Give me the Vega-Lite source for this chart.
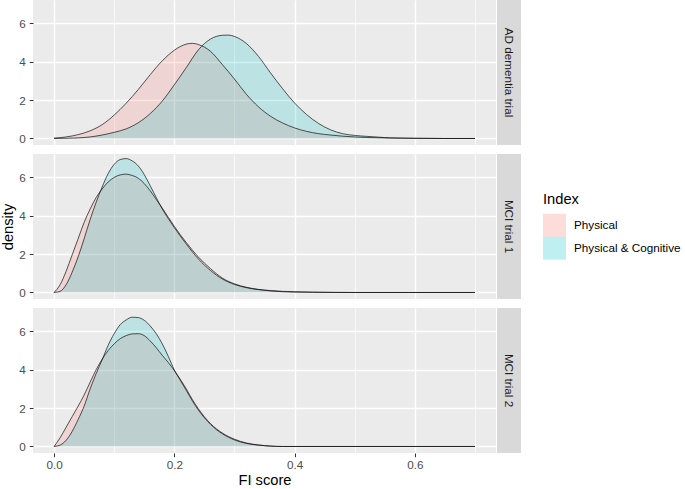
{
  "$schema": "https://vega.github.io/schema/vega-lite/v6.json",
  "padding": {"left": 0, "top": 0, "right": 0, "bottom": 0},
  "background": "white",
  "config": {
    "font": "Liberation Sans",
    "view": {"fill": "#EBEBEB", "stroke": null},
    "axis": {
      "domain": false,
      "gridColor": "white",
      "tickColor": "#333333",
      "tickSize": 3.7,
      "tickWidth": 1,
      "labelColor": "#4D4D4D",
      "labelFontSize": 11.7,
      "titleFontSize": 14.7,
      "titleFontWeight": "normal",
      "titleColor": "black"
    },
    "legend": {
      "titleFontSize": 14.7,
      "titleFontWeight": "normal",
      "titleColor": "black",
      "labelFontSize": 11.7,
      "labelColor": "black"
    }
  },
  "datasets": {
    "strips": [
      {"trial": "AD", "label": "AD dementia trial"},
      {"trial": "MCI1", "label": "MCI trial 1"},
      {"trial": "MCI2", "label": "MCI trial 2"}
    ],
    "curves": [
      {"trial": "AD", "Index": "Physical", "fi": 0.0, "density": 0.02},
      {"trial": "AD", "Index": "Physical", "fi": 0.02, "density": 0.08},
      {"trial": "AD", "Index": "Physical", "fi": 0.04, "density": 0.2},
      {"trial": "AD", "Index": "Physical", "fi": 0.06, "density": 0.4},
      {"trial": "AD", "Index": "Physical", "fi": 0.08, "density": 0.72},
      {"trial": "AD", "Index": "Physical", "fi": 0.1, "density": 1.22},
      {"trial": "AD", "Index": "Physical", "fi": 0.12, "density": 1.84},
      {"trial": "AD", "Index": "Physical", "fi": 0.14, "density": 2.55},
      {"trial": "AD", "Index": "Physical", "fi": 0.16, "density": 3.33},
      {"trial": "AD", "Index": "Physical", "fi": 0.18, "density": 4.05},
      {"trial": "AD", "Index": "Physical", "fi": 0.2, "density": 4.6},
      {"trial": "AD", "Index": "Physical", "fi": 0.22, "density": 4.92},
      {"trial": "AD", "Index": "Physical", "fi": 0.23, "density": 4.96},
      {"trial": "AD", "Index": "Physical", "fi": 0.24, "density": 4.9},
      {"trial": "AD", "Index": "Physical", "fi": 0.26, "density": 4.55},
      {"trial": "AD", "Index": "Physical", "fi": 0.28, "density": 3.85},
      {"trial": "AD", "Index": "Physical", "fi": 0.3, "density": 3.1},
      {"trial": "AD", "Index": "Physical", "fi": 0.32, "density": 2.3},
      {"trial": "AD", "Index": "Physical", "fi": 0.34, "density": 1.65},
      {"trial": "AD", "Index": "Physical", "fi": 0.36, "density": 1.16},
      {"trial": "AD", "Index": "Physical", "fi": 0.38, "density": 0.81},
      {"trial": "AD", "Index": "Physical", "fi": 0.4, "density": 0.55},
      {"trial": "AD", "Index": "Physical", "fi": 0.42, "density": 0.37},
      {"trial": "AD", "Index": "Physical", "fi": 0.44, "density": 0.25},
      {"trial": "AD", "Index": "Physical", "fi": 0.46, "density": 0.18},
      {"trial": "AD", "Index": "Physical", "fi": 0.48, "density": 0.12},
      {"trial": "AD", "Index": "Physical", "fi": 0.5, "density": 0.08},
      {"trial": "AD", "Index": "Physical", "fi": 0.52, "density": 0.05},
      {"trial": "AD", "Index": "Physical", "fi": 0.55, "density": 0.03},
      {"trial": "AD", "Index": "Physical", "fi": 0.6, "density": 0.01},
      {"trial": "AD", "Index": "Physical", "fi": 0.65, "density": 0.0},
      {"trial": "AD", "Index": "Physical", "fi": 0.7, "density": 0.0},
      {"trial": "AD", "Index": "Physical & Cognitive", "fi": 0.0, "density": 0.0},
      {"trial": "AD", "Index": "Physical & Cognitive", "fi": 0.02, "density": 0.01},
      {"trial": "AD", "Index": "Physical & Cognitive", "fi": 0.04, "density": 0.03},
      {"trial": "AD", "Index": "Physical & Cognitive", "fi": 0.06, "density": 0.08},
      {"trial": "AD", "Index": "Physical & Cognitive", "fi": 0.08, "density": 0.18},
      {"trial": "AD", "Index": "Physical & Cognitive", "fi": 0.1, "density": 0.32},
      {"trial": "AD", "Index": "Physical & Cognitive", "fi": 0.12, "density": 0.5},
      {"trial": "AD", "Index": "Physical & Cognitive", "fi": 0.14, "density": 0.82},
      {"trial": "AD", "Index": "Physical & Cognitive", "fi": 0.16, "density": 1.3},
      {"trial": "AD", "Index": "Physical & Cognitive", "fi": 0.18, "density": 1.95},
      {"trial": "AD", "Index": "Physical & Cognitive", "fi": 0.2, "density": 2.8},
      {"trial": "AD", "Index": "Physical & Cognitive", "fi": 0.22, "density": 3.7},
      {"trial": "AD", "Index": "Physical & Cognitive", "fi": 0.24, "density": 4.62},
      {"trial": "AD", "Index": "Physical & Cognitive", "fi": 0.26, "density": 5.18},
      {"trial": "AD", "Index": "Physical & Cognitive", "fi": 0.28, "density": 5.38},
      {"trial": "AD", "Index": "Physical & Cognitive", "fi": 0.29, "density": 5.39},
      {"trial": "AD", "Index": "Physical & Cognitive", "fi": 0.3, "density": 5.32},
      {"trial": "AD", "Index": "Physical & Cognitive", "fi": 0.32, "density": 4.95},
      {"trial": "AD", "Index": "Physical & Cognitive", "fi": 0.34, "density": 4.28},
      {"trial": "AD", "Index": "Physical & Cognitive", "fi": 0.36, "density": 3.42},
      {"trial": "AD", "Index": "Physical & Cognitive", "fi": 0.38, "density": 2.6},
      {"trial": "AD", "Index": "Physical & Cognitive", "fi": 0.4, "density": 1.85},
      {"trial": "AD", "Index": "Physical & Cognitive", "fi": 0.42, "density": 1.25},
      {"trial": "AD", "Index": "Physical & Cognitive", "fi": 0.44, "density": 0.78},
      {"trial": "AD", "Index": "Physical & Cognitive", "fi": 0.46, "density": 0.45},
      {"trial": "AD", "Index": "Physical & Cognitive", "fi": 0.48, "density": 0.25},
      {"trial": "AD", "Index": "Physical & Cognitive", "fi": 0.5, "density": 0.16},
      {"trial": "AD", "Index": "Physical & Cognitive", "fi": 0.52, "density": 0.11},
      {"trial": "AD", "Index": "Physical & Cognitive", "fi": 0.54, "density": 0.07},
      {"trial": "AD", "Index": "Physical & Cognitive", "fi": 0.56, "density": 0.03},
      {"trial": "AD", "Index": "Physical & Cognitive", "fi": 0.6, "density": 0.01},
      {"trial": "AD", "Index": "Physical & Cognitive", "fi": 0.65, "density": 0.0},
      {"trial": "AD", "Index": "Physical & Cognitive", "fi": 0.7, "density": 0.0},
      {"trial": "MCI1", "Index": "Physical", "fi": 0.0, "density": 0.0},
      {"trial": "MCI1", "Index": "Physical", "fi": 0.01, "density": 0.4},
      {"trial": "MCI1", "Index": "Physical", "fi": 0.02, "density": 1.1},
      {"trial": "MCI1", "Index": "Physical", "fi": 0.03, "density": 1.95},
      {"trial": "MCI1", "Index": "Physical", "fi": 0.04, "density": 2.8},
      {"trial": "MCI1", "Index": "Physical", "fi": 0.05, "density": 3.65},
      {"trial": "MCI1", "Index": "Physical", "fi": 0.06, "density": 4.35},
      {"trial": "MCI1", "Index": "Physical", "fi": 0.07, "density": 4.95},
      {"trial": "MCI1", "Index": "Physical", "fi": 0.08, "density": 5.4},
      {"trial": "MCI1", "Index": "Physical", "fi": 0.09, "density": 5.76},
      {"trial": "MCI1", "Index": "Physical", "fi": 0.1, "density": 6.0},
      {"trial": "MCI1", "Index": "Physical", "fi": 0.11, "density": 6.13},
      {"trial": "MCI1", "Index": "Physical", "fi": 0.12, "density": 6.17},
      {"trial": "MCI1", "Index": "Physical", "fi": 0.13, "density": 6.1},
      {"trial": "MCI1", "Index": "Physical", "fi": 0.14, "density": 5.96},
      {"trial": "MCI1", "Index": "Physical", "fi": 0.15, "density": 5.68},
      {"trial": "MCI1", "Index": "Physical", "fi": 0.16, "density": 5.3},
      {"trial": "MCI1", "Index": "Physical", "fi": 0.17, "density": 4.85},
      {"trial": "MCI1", "Index": "Physical", "fi": 0.18, "density": 4.4},
      {"trial": "MCI1", "Index": "Physical", "fi": 0.19, "density": 3.92},
      {"trial": "MCI1", "Index": "Physical", "fi": 0.2, "density": 3.45},
      {"trial": "MCI1", "Index": "Physical", "fi": 0.22, "density": 2.6},
      {"trial": "MCI1", "Index": "Physical", "fi": 0.24, "density": 1.85},
      {"trial": "MCI1", "Index": "Physical", "fi": 0.26, "density": 1.25},
      {"trial": "MCI1", "Index": "Physical", "fi": 0.28, "density": 0.75},
      {"trial": "MCI1", "Index": "Physical", "fi": 0.3, "density": 0.45},
      {"trial": "MCI1", "Index": "Physical", "fi": 0.32, "density": 0.27},
      {"trial": "MCI1", "Index": "Physical", "fi": 0.34, "density": 0.16},
      {"trial": "MCI1", "Index": "Physical", "fi": 0.36, "density": 0.1},
      {"trial": "MCI1", "Index": "Physical", "fi": 0.38, "density": 0.06},
      {"trial": "MCI1", "Index": "Physical", "fi": 0.4, "density": 0.04},
      {"trial": "MCI1", "Index": "Physical", "fi": 0.43, "density": 0.02},
      {"trial": "MCI1", "Index": "Physical", "fi": 0.5, "density": 0.0},
      {"trial": "MCI1", "Index": "Physical", "fi": 0.7, "density": 0.0},
      {"trial": "MCI1", "Index": "Physical & Cognitive", "fi": 0.0, "density": 0.0},
      {"trial": "MCI1", "Index": "Physical & Cognitive", "fi": 0.01, "density": 0.06},
      {"trial": "MCI1", "Index": "Physical & Cognitive", "fi": 0.02, "density": 0.4},
      {"trial": "MCI1", "Index": "Physical & Cognitive", "fi": 0.03, "density": 1.05},
      {"trial": "MCI1", "Index": "Physical & Cognitive", "fi": 0.04, "density": 1.85},
      {"trial": "MCI1", "Index": "Physical & Cognitive", "fi": 0.05, "density": 2.8},
      {"trial": "MCI1", "Index": "Physical & Cognitive", "fi": 0.06, "density": 3.8},
      {"trial": "MCI1", "Index": "Physical & Cognitive", "fi": 0.07, "density": 4.7},
      {"trial": "MCI1", "Index": "Physical & Cognitive", "fi": 0.08, "density": 5.5},
      {"trial": "MCI1", "Index": "Physical & Cognitive", "fi": 0.09, "density": 6.2},
      {"trial": "MCI1", "Index": "Physical & Cognitive", "fi": 0.1, "density": 6.68},
      {"trial": "MCI1", "Index": "Physical & Cognitive", "fi": 0.11, "density": 6.93},
      {"trial": "MCI1", "Index": "Physical & Cognitive", "fi": 0.12, "density": 6.98},
      {"trial": "MCI1", "Index": "Physical & Cognitive", "fi": 0.13, "density": 6.86},
      {"trial": "MCI1", "Index": "Physical & Cognitive", "fi": 0.14, "density": 6.6},
      {"trial": "MCI1", "Index": "Physical & Cognitive", "fi": 0.15, "density": 6.15},
      {"trial": "MCI1", "Index": "Physical & Cognitive", "fi": 0.16, "density": 5.56},
      {"trial": "MCI1", "Index": "Physical & Cognitive", "fi": 0.17, "density": 4.95},
      {"trial": "MCI1", "Index": "Physical & Cognitive", "fi": 0.18, "density": 4.35},
      {"trial": "MCI1", "Index": "Physical & Cognitive", "fi": 0.19, "density": 3.85},
      {"trial": "MCI1", "Index": "Physical & Cognitive", "fi": 0.2, "density": 3.38},
      {"trial": "MCI1", "Index": "Physical & Cognitive", "fi": 0.22, "density": 2.52},
      {"trial": "MCI1", "Index": "Physical & Cognitive", "fi": 0.24, "density": 1.75},
      {"trial": "MCI1", "Index": "Physical & Cognitive", "fi": 0.26, "density": 1.15},
      {"trial": "MCI1", "Index": "Physical & Cognitive", "fi": 0.28, "density": 0.7},
      {"trial": "MCI1", "Index": "Physical & Cognitive", "fi": 0.3, "density": 0.42},
      {"trial": "MCI1", "Index": "Physical & Cognitive", "fi": 0.32, "density": 0.25},
      {"trial": "MCI1", "Index": "Physical & Cognitive", "fi": 0.34, "density": 0.15},
      {"trial": "MCI1", "Index": "Physical & Cognitive", "fi": 0.36, "density": 0.08},
      {"trial": "MCI1", "Index": "Physical & Cognitive", "fi": 0.38, "density": 0.04},
      {"trial": "MCI1", "Index": "Physical & Cognitive", "fi": 0.4, "density": 0.02},
      {"trial": "MCI1", "Index": "Physical & Cognitive", "fi": 0.43, "density": 0.01},
      {"trial": "MCI1", "Index": "Physical & Cognitive", "fi": 0.5, "density": 0.0},
      {"trial": "MCI1", "Index": "Physical & Cognitive", "fi": 0.7, "density": 0.0},
      {"trial": "MCI2", "Index": "Physical", "fi": 0.0, "density": 0.0},
      {"trial": "MCI2", "Index": "Physical", "fi": 0.01, "density": 0.45},
      {"trial": "MCI2", "Index": "Physical", "fi": 0.02, "density": 1.0},
      {"trial": "MCI2", "Index": "Physical", "fi": 0.03, "density": 1.55},
      {"trial": "MCI2", "Index": "Physical", "fi": 0.04, "density": 2.1},
      {"trial": "MCI2", "Index": "Physical", "fi": 0.05, "density": 2.68},
      {"trial": "MCI2", "Index": "Physical", "fi": 0.06, "density": 3.35},
      {"trial": "MCI2", "Index": "Physical", "fi": 0.07, "density": 4.0},
      {"trial": "MCI2", "Index": "Physical", "fi": 0.08, "density": 4.55},
      {"trial": "MCI2", "Index": "Physical", "fi": 0.09, "density": 5.0},
      {"trial": "MCI2", "Index": "Physical", "fi": 0.1, "density": 5.35},
      {"trial": "MCI2", "Index": "Physical", "fi": 0.11, "density": 5.62},
      {"trial": "MCI2", "Index": "Physical", "fi": 0.12, "density": 5.78},
      {"trial": "MCI2", "Index": "Physical", "fi": 0.13, "density": 5.87},
      {"trial": "MCI2", "Index": "Physical", "fi": 0.14, "density": 5.88},
      {"trial": "MCI2", "Index": "Physical", "fi": 0.15, "density": 5.78},
      {"trial": "MCI2", "Index": "Physical", "fi": 0.16, "density": 5.5},
      {"trial": "MCI2", "Index": "Physical", "fi": 0.17, "density": 5.15},
      {"trial": "MCI2", "Index": "Physical", "fi": 0.18, "density": 4.75},
      {"trial": "MCI2", "Index": "Physical", "fi": 0.19, "density": 4.38},
      {"trial": "MCI2", "Index": "Physical", "fi": 0.2, "density": 3.96},
      {"trial": "MCI2", "Index": "Physical", "fi": 0.21, "density": 3.5},
      {"trial": "MCI2", "Index": "Physical", "fi": 0.22, "density": 3.0},
      {"trial": "MCI2", "Index": "Physical", "fi": 0.23, "density": 2.45},
      {"trial": "MCI2", "Index": "Physical", "fi": 0.24, "density": 1.97},
      {"trial": "MCI2", "Index": "Physical", "fi": 0.25, "density": 1.55},
      {"trial": "MCI2", "Index": "Physical", "fi": 0.26, "density": 1.2},
      {"trial": "MCI2", "Index": "Physical", "fi": 0.27, "density": 0.92},
      {"trial": "MCI2", "Index": "Physical", "fi": 0.28, "density": 0.7},
      {"trial": "MCI2", "Index": "Physical", "fi": 0.3, "density": 0.38},
      {"trial": "MCI2", "Index": "Physical", "fi": 0.32, "density": 0.18},
      {"trial": "MCI2", "Index": "Physical", "fi": 0.34, "density": 0.08},
      {"trial": "MCI2", "Index": "Physical", "fi": 0.36, "density": 0.02},
      {"trial": "MCI2", "Index": "Physical", "fi": 0.38, "density": 0.0},
      {"trial": "MCI2", "Index": "Physical", "fi": 0.7, "density": 0.0},
      {"trial": "MCI2", "Index": "Physical & Cognitive", "fi": 0.0, "density": 0.0},
      {"trial": "MCI2", "Index": "Physical & Cognitive", "fi": 0.01, "density": 0.07},
      {"trial": "MCI2", "Index": "Physical & Cognitive", "fi": 0.02, "density": 0.32},
      {"trial": "MCI2", "Index": "Physical & Cognitive", "fi": 0.03, "density": 0.78},
      {"trial": "MCI2", "Index": "Physical & Cognitive", "fi": 0.04, "density": 1.4},
      {"trial": "MCI2", "Index": "Physical & Cognitive", "fi": 0.05, "density": 2.1},
      {"trial": "MCI2", "Index": "Physical & Cognitive", "fi": 0.06, "density": 3.0},
      {"trial": "MCI2", "Index": "Physical & Cognitive", "fi": 0.07, "density": 3.8},
      {"trial": "MCI2", "Index": "Physical & Cognitive", "fi": 0.08, "density": 4.52},
      {"trial": "MCI2", "Index": "Physical & Cognitive", "fi": 0.09, "density": 5.28},
      {"trial": "MCI2", "Index": "Physical & Cognitive", "fi": 0.1, "density": 5.88},
      {"trial": "MCI2", "Index": "Physical & Cognitive", "fi": 0.11, "density": 6.35},
      {"trial": "MCI2", "Index": "Physical & Cognitive", "fi": 0.12, "density": 6.6},
      {"trial": "MCI2", "Index": "Physical & Cognitive", "fi": 0.13, "density": 6.74},
      {"trial": "MCI2", "Index": "Physical & Cognitive", "fi": 0.14, "density": 6.72},
      {"trial": "MCI2", "Index": "Physical & Cognitive", "fi": 0.15, "density": 6.58},
      {"trial": "MCI2", "Index": "Physical & Cognitive", "fi": 0.16, "density": 6.28},
      {"trial": "MCI2", "Index": "Physical & Cognitive", "fi": 0.17, "density": 5.88},
      {"trial": "MCI2", "Index": "Physical & Cognitive", "fi": 0.18, "density": 5.35},
      {"trial": "MCI2", "Index": "Physical & Cognitive", "fi": 0.19, "density": 4.7},
      {"trial": "MCI2", "Index": "Physical & Cognitive", "fi": 0.2, "density": 3.99},
      {"trial": "MCI2", "Index": "Physical & Cognitive", "fi": 0.21, "density": 3.45},
      {"trial": "MCI2", "Index": "Physical & Cognitive", "fi": 0.22, "density": 2.92},
      {"trial": "MCI2", "Index": "Physical & Cognitive", "fi": 0.23, "density": 2.38},
      {"trial": "MCI2", "Index": "Physical & Cognitive", "fi": 0.24, "density": 1.9},
      {"trial": "MCI2", "Index": "Physical & Cognitive", "fi": 0.25, "density": 1.5},
      {"trial": "MCI2", "Index": "Physical & Cognitive", "fi": 0.26, "density": 1.16},
      {"trial": "MCI2", "Index": "Physical & Cognitive", "fi": 0.27, "density": 0.88},
      {"trial": "MCI2", "Index": "Physical & Cognitive", "fi": 0.28, "density": 0.66},
      {"trial": "MCI2", "Index": "Physical & Cognitive", "fi": 0.3, "density": 0.34},
      {"trial": "MCI2", "Index": "Physical & Cognitive", "fi": 0.32, "density": 0.16},
      {"trial": "MCI2", "Index": "Physical & Cognitive", "fi": 0.34, "density": 0.07},
      {"trial": "MCI2", "Index": "Physical & Cognitive", "fi": 0.36, "density": 0.02},
      {"trial": "MCI2", "Index": "Physical & Cognitive", "fi": 0.38, "density": 0.0},
      {"trial": "MCI2", "Index": "Physical & Cognitive", "fi": 0.7, "density": 0.0}
    ]
  },
  "spacing": 8,
  "vconcat": [
    {
      "spacing": 1,
      "hconcat": [
        {
          "width": 463, "height": 145,
          "data": {"name": "curves"},
          "transform": [{"filter": "datum.trial === 'AD'"}],
          "layer": [
            {
              "mark": {"type": "area", "fillOpacity": 0.2, "interpolate": "monotone"},
              "encoding": {
                "x": {"field": "fi", "type": "quantitative", "scale": {"domain": [-0.035, 0.735], "nice": false, "zero": false},
                  "axis": {"values": [0, 0.1, 0.2, 0.3, 0.4, 0.5, 0.6, 0.7], "labels": false, "ticks": false, "title": null,
                    "gridWidth": {"condition": {"test": "round(datum.value*10) % 2 === 0", "value": 1.4}, "value": 0.7}}},
                "y": {"field": "density", "type": "quantitative", "stack": null, "scale": {"domain": [-0.34, 7.22], "nice": false, "zero": false},
                  "axis": {"values": [0, 1, 2, 3, 4, 5, 6, 7], "title": "density", "titleOpacity": 0, "labelPadding": 4, "titlePadding": 3,
                    "labelExpr": "datum.value % 2 === 0 ? datum.label : ''",
                    "tickOpacity": {"condition": {"test": "datum.value % 2 === 0", "value": 1}, "value": 0},
                    "gridWidth": {"condition": {"test": "datum.value % 2 === 0", "value": 1.4}, "value": 0.7}}},
                "y2": {"datum": 0},
                "color": {"field": "Index", "type": "nominal", "scale": {"domain": ["Physical", "Physical & Cognitive"], "range": ["#F8766D", "#00BFC4"]},
                  "legend": {"title": "Index", "orient": "none", "legendX": 510, "legendY": 192, "symbolType": "square", "symbolSize": 529, "symbolStrokeWidth": 0, "symbolOpacity": 0.25, "rowPadding": 0, "labelOffset": 8, "titlePadding": 7}}
              }
            },
            {
              "mark": {"type": "line", "color": "black", "strokeWidth": 0.65, "interpolate": "monotone"},
              "encoding": {
                "x": {"field": "fi", "type": "quantitative"},
                "y": {"field": "density", "type": "quantitative"},
                "detail": {"field": "Index"}
              }
            }
          ]
        },
        {
          "width": 24, "height": 145,
          "data": {"name": "strips"},
          "transform": [{"filter": "datum.trial === 'AD'"}],
          "view": {"fill": "#D9D9D9", "stroke": null},
          "mark": {"type": "text", "angle": 90, "fontSize": 11.7, "color": "#1A1A1A", "align": "center", "baseline": "middle"},
          "encoding": {"text": {"field": "label"}}
        }
      ]
    },
    {
      "spacing": 1,
      "hconcat": [
        {
          "width": 463, "height": 145,
          "data": {"name": "curves"},
          "transform": [{"filter": "datum.trial === 'MCI1'"}],
          "layer": [
            {
              "mark": {"type": "area", "fillOpacity": 0.2, "interpolate": "monotone"},
              "encoding": {
                "x": {"field": "fi", "type": "quantitative", "scale": {"domain": [-0.035, 0.735], "nice": false, "zero": false},
                  "axis": {"values": [0, 0.1, 0.2, 0.3, 0.4, 0.5, 0.6, 0.7], "labels": false, "ticks": false, "title": null,
                    "gridWidth": {"condition": {"test": "round(datum.value*10) % 2 === 0", "value": 1.4}, "value": 0.7}}},
                "y": {"field": "density", "type": "quantitative", "stack": null, "scale": {"domain": [-0.34, 7.22], "nice": false, "zero": false},
                  "axis": {"values": [0, 1, 2, 3, 4, 5, 6, 7], "title": "density", "labelPadding": 4, "titlePadding": 3,
                    "labelExpr": "datum.value % 2 === 0 ? datum.label : ''",
                    "tickOpacity": {"condition": {"test": "datum.value % 2 === 0", "value": 1}, "value": 0},
                    "gridWidth": {"condition": {"test": "datum.value % 2 === 0", "value": 1.4}, "value": 0.7}}},
                "y2": {"datum": 0},
                "color": {"field": "Index", "type": "nominal", "scale": {"domain": ["Physical", "Physical & Cognitive"], "range": ["#F8766D", "#00BFC4"]}}
              }
            },
            {
              "mark": {"type": "line", "color": "black", "strokeWidth": 0.65, "interpolate": "monotone"},
              "encoding": {
                "x": {"field": "fi", "type": "quantitative"},
                "y": {"field": "density", "type": "quantitative"},
                "detail": {"field": "Index"}
              }
            }
          ]
        },
        {
          "width": 24, "height": 145,
          "data": {"name": "strips"},
          "transform": [{"filter": "datum.trial === 'MCI1'"}],
          "view": {"fill": "#D9D9D9", "stroke": null},
          "mark": {"type": "text", "angle": 90, "fontSize": 11.7, "color": "#1A1A1A", "align": "center", "baseline": "middle"},
          "encoding": {"text": {"field": "label"}}
        }
      ]
    },
    {
      "spacing": 1,
      "hconcat": [
        {
          "width": 463, "height": 145,
          "data": {"name": "curves"},
          "transform": [{"filter": "datum.trial === 'MCI2'"}],
          "layer": [
            {
              "mark": {"type": "area", "fillOpacity": 0.2, "interpolate": "monotone"},
              "encoding": {
                "x": {"field": "fi", "type": "quantitative", "scale": {"domain": [-0.035, 0.735], "nice": false, "zero": false},
                  "axis": {"values": [0, 0.1, 0.2, 0.3, 0.4, 0.5, 0.6, 0.7], "title": "FI score", "labelPadding": 3, "titlePadding": 1,
                    "labelExpr": "round(datum.value*10) % 2 === 0 ? format(datum.value, '.1f') : ''",
                    "tickOpacity": {"condition": {"test": "round(datum.value*10) % 2 === 0", "value": 1}, "value": 0},
                    "gridWidth": {"condition": {"test": "round(datum.value*10) % 2 === 0", "value": 1.4}, "value": 0.7}}},
                "y": {"field": "density", "type": "quantitative", "stack": null, "scale": {"domain": [-0.34, 7.22], "nice": false, "zero": false},
                  "axis": {"values": [0, 1, 2, 3, 4, 5, 6, 7], "title": "density", "titleOpacity": 0, "labelPadding": 4, "titlePadding": 3,
                    "labelExpr": "datum.value % 2 === 0 ? datum.label : ''",
                    "tickOpacity": {"condition": {"test": "datum.value % 2 === 0", "value": 1}, "value": 0},
                    "gridWidth": {"condition": {"test": "datum.value % 2 === 0", "value": 1.4}, "value": 0.7}}},
                "y2": {"datum": 0},
                "color": {"field": "Index", "type": "nominal", "scale": {"domain": ["Physical", "Physical & Cognitive"], "range": ["#F8766D", "#00BFC4"]}}
              }
            },
            {
              "mark": {"type": "line", "color": "black", "strokeWidth": 0.65, "interpolate": "monotone"},
              "encoding": {
                "x": {"field": "fi", "type": "quantitative"},
                "y": {"field": "density", "type": "quantitative"},
                "detail": {"field": "Index"}
              }
            }
          ]
        },
        {
          "width": 24, "height": 145,
          "data": {"name": "strips"},
          "transform": [{"filter": "datum.trial === 'MCI2'"}],
          "view": {"fill": "#D9D9D9", "stroke": null},
          "mark": {"type": "text", "angle": 90, "fontSize": 11.7, "color": "#1A1A1A", "align": "center", "baseline": "middle"},
          "encoding": {"text": {"field": "label"}}
        }
      ]
    }
  ]
}
